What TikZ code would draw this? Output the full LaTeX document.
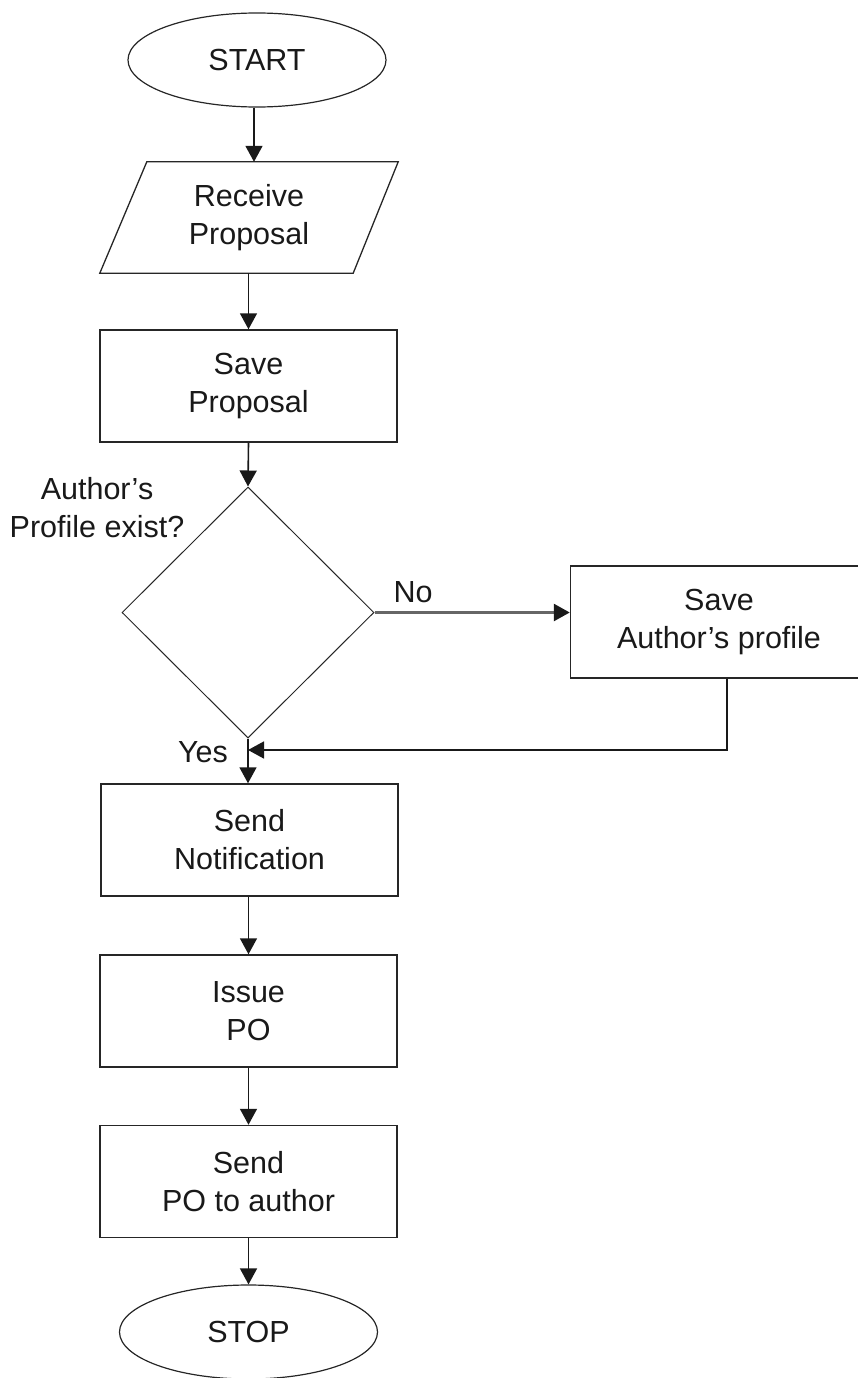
\documentclass[tikz,border=0pt]{standalone}
\usepackage{fontspec}
\setmainfont{Liberation Sans}
\usetikzlibrary{shapes.geometric,arrows.meta,calc}
\begin{document}
\begin{tikzpicture}[x=1pt,y=-1pt,
  every node/.style={font=\fontsize{30.5}{38}\selectfont, align=center, text=black!90},
  proc/.style={draw=black!85, line width=1.5pt, minimum width=297pt, minimum height=112pt, inner sep=0pt},
  term/.style={draw=black!85, line width=1.2pt, ellipse, minimum width=258pt, minimum height=94pt, inner sep=0pt},
  decision/.style={draw=black!85, line width=1pt, diamond, minimum width=252pt, minimum height=251pt, inner sep=0pt},
  flow/.style={draw=black!90, line width=1.6pt, -{Triangle[length=16pt,width=17pt]}},
  noflow/.style={draw=black!60, line width=2.8pt, -{Triangle[length=16pt,width=17pt,color=black!90]}}]
\useasboundingbox (0,0) rectangle (858,1378);

% terminals and steps
\node[term] (start) at (257,60) {START};
\node[inner sep=0pt, minimum width=298pt, minimum height=111pt] (recv) at (249,217.5) {Receive\\Proposal};
\draw[draw=black!85, line width=1.3pt] ($(recv.north west)+(47,0)$) -- (recv.north east)
  -- ($(recv.south east)+(-45,0)$) -- (recv.south west) -- cycle;
\node[proc] (savep) at (248.5,386) {Save\\Proposal};
\node[decision] (dec) at (248,612.5) {};
\node (q) at (97,508) {Author’s\\Profile exist?};
\node (no) at (413,592) {No};
\node[proc] (sap) at (719,622) {Save\\Author’s profile};
\node (yes) at (203,752) {Yes};
\node[proc] (notif) at (249.5,840) {Send\\Notification};
\node[proc] (po) at (248.5,1011) {Issue\\PO};
\node[proc] (sendpo) at (248.5,1181.5) {Send\\PO to author};
\node[term] (stop) at (248.5,1332) {STOP};
\coordinate (ret) at (727,750);

% connectors
\draw[flow] (start.south -| recv.north) ++(5,0) coordinate (s0) (s0) -- (s0 |- recv.north);
\draw[flow] (recv.south -| savep.north) -- (savep.north);
\draw[flow] (savep.south) -- (dec.north);
\draw[noflow] (dec.east) -- (dec.east -| sap.west);
\draw[flow] (dec.south) -- (notif.north -| dec.south);
\draw[flow] (sap.south -| ret) -- (ret) -- (ret -| dec.south);
\draw[flow] (notif.south -| po.north) -- (po.north);
\draw[flow] (po.south) -- (sendpo.north);
\draw[flow] (sendpo.south) -- (stop.north);
\end{tikzpicture}
\end{document}
